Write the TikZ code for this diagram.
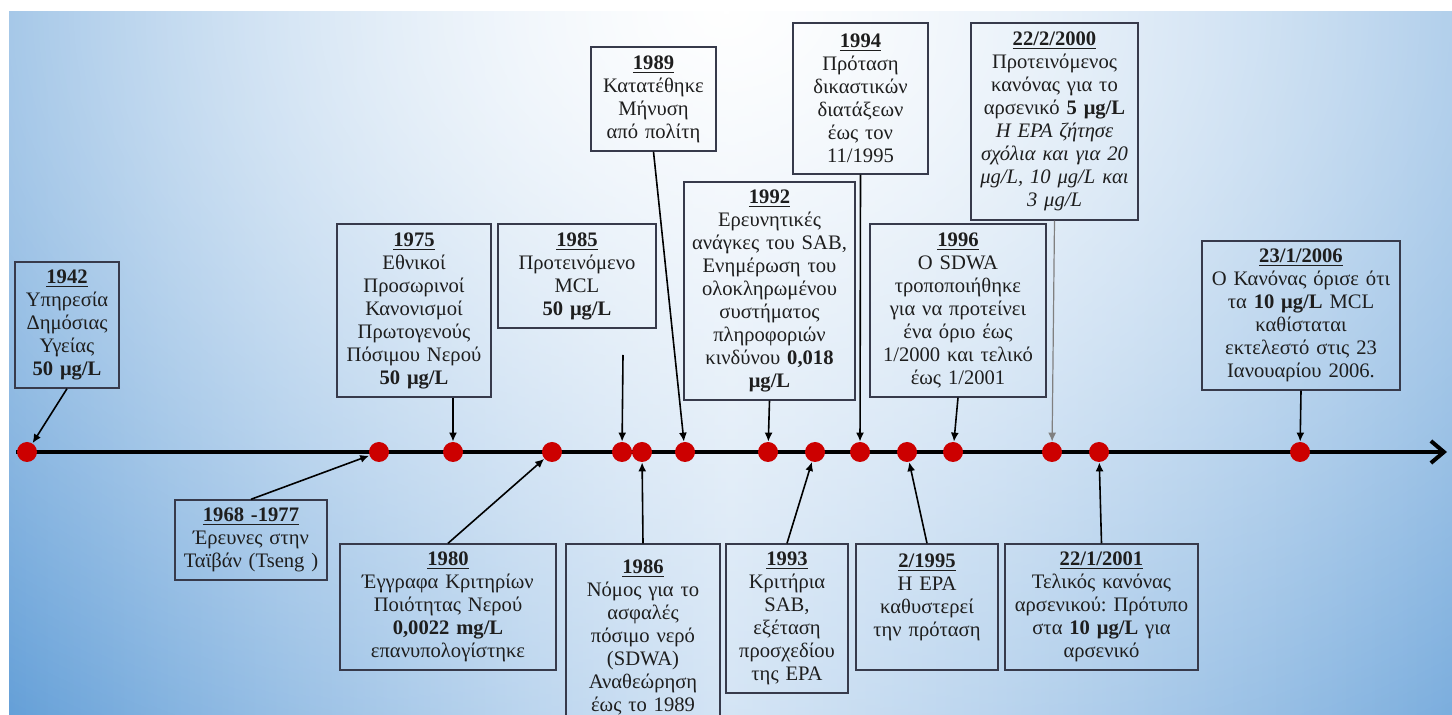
\documentclass[tikz,border=0pt]{standalone}
\usepackage{fontspec}
\setmainfont{Liberation Serif}
\usetikzlibrary{arrows.meta,fadings}

\definecolor{bgside}{RGB}{93,155,214}
\definecolor{bgmid}{RGB}{200,221,242}
\definecolor{boxline}{RGB}{55,58,75}
\definecolor{dotred}{RGB}{204,0,0}
\definecolor{txt}{RGB}{30,30,30}

\tikzfading[name=topglow, inner color=transparent!0, outer color=transparent!100]

\tikzset{
  evbox/.style 2 args={draw=boxline, line width=0.7pt, text=txt, align=center,
    font=\fontsize{10.3}{11.5}\selectfont, inner sep=2pt,
    minimum width=#1*0.5pt, minimum height=#2*0.5pt, text width=#1*0.5pt-4pt},
  evdot/.style={circle, fill=dotred, minimum size=10pt, inner sep=0pt},
  evarrow/.style={line width=0.8pt, -{Latex[length=4.5pt,width=4pt]}}
}
\newcommand{\yr}[1]{\underline{\textbf{#1}}}
\newcommand{\ug}{μg/L}
\frenchspacing

\begin{document}
\begin{tikzpicture}[x=0.5pt,y=-0.5pt]
\useasboundingbox (0,0) rectangle (1452,715);
\begin{scope}
  \clip (9,12) rectangle (1452,715);
  \shade[left color=bgside, right color=bgside!85!white, middle color=bgmid] (9,12) rectangle (1452,715);
  \fill[white, path fading=topglow] (726,12) ellipse (1300 and 900);
\end{scope}

\draw[line width=2pt, -{Straight Barb[length=6.5pt,width=11pt]}] (16,452) -- (1447,452);
\foreach \n/\x in {1942/27, 1968/379, 1975/453, 1980/552, 1985/622, 1986/642, 1989/685, 1992/768,
  1993/815, 1994/860, 1995/907, 1996/953, 2000/1052, 2001/1099, 2006/1300}
  \node[evdot] (d\n) at (\x,452) {};

\node[evbox={104}{126}] (b1942) at (67,325) {\yr{1942}\\Υπηρεσία\\Δημόσιας\\Υγείας\\\textbf{50 \ug}};
\node[evbox={154}{173}] (b1975) at (414,310.5) {\yr{1975}\\Εθνικοί\\Προσωρινοί\\Κανονισμοί\\Πρωτογενούς\\Πόσιμου Νερού\\\textbf{50 \ug}};
\node[evbox={158}{104}] (b1985) at (577,276) {\yr{1985}\\Προτεινόμενο\\MCL\\\textbf{50 \ug}};
\node[evbox={125}{104}] (b1989) at (653.5,99) {\yr{1989}\\Κατατέθηκε\\Μήνυση\\από πολίτη};
\node[evbox={171}{218}] (b1992) at (769.5,291) {\yr{1992}\\Ερευνητικές\\ανάγκες του SAB,\\Ενημέρωση του\\ολοκληρωμένου\\συστήματος\\πληροφοριών\\κινδύνου \textbf{0,018}\\\textbf{\ug}};
\node[evbox={135}{151}] (b1994) at (860.5,98.5) {\yr{1994}\\Πρόταση\\δικαστικών\\διατάξεων\\έως τον\\11/1995};
\node[evbox={167}{197}] (b2000) at (1054.5,121.5) {\yr{22/2/2000}\\Προτεινόμενος\\κανόνας για το\\αρσενικό \textbf{5 \ug}\\\textit{Η EPA ζήτησε}\\\textit{σχόλια και για 20}\\\textit{\ug, 10 \ug\ και}\\\textit{3 \ug}};
\node[evbox={176}{173}] (b1996) at (958,310.5) {\yr{1996}\\O SDWA\\τροποποιήθηκε\\για να προτείνει\\ένα όριο έως\\1/2000 και τελικό\\έως 1/2001};
\node[evbox={198}{149}] (b2006) at (1301,315.5) {\yr{23/1/2006}\\O Κανόνας όρισε ότι\\τα \textbf{10 \ug} MCL\\καθίσταται\\εκτελεστό στις 23\\Ιανουαρίου 2006.};

\node[evbox={152}{80}] (b1968) at (251,540) {\yr{1968 -1977}\\Έρευνες στην\\Ταϊβάν (Tseng )};
\node[evbox={216}{126}] (b1980) at (448,607) {\yr{1980}\\Έγγραφα Κριτηρίων\\Ποιότητας Νερού\\\textbf{0,0022 mg/L}\\επανυπολογίστηκε};
\node[evbox={154}{186}] (b1986) at (643,637) {\yr{1986}\\Νόμος για το\\ασφαλές\\πόσιμο νερό\\(SDWA)\\Αναθεώρηση\\έως το 1989};
\node[evbox={122}{149}] (b1993) at (787,618.5) {\yr{1993}\\Κριτήρια\\SAB,\\εξέταση\\προσχεδίου\\της EPA};
\node[evbox={142}{126}] (b1995) at (927,607) {\yr{2/1995}\\Η EPA\\καθυστερεί\\την πρόταση\\\mbox{}};
\node[evbox={193}{126}] (b2001) at (1101.5,607) {\yr{22/1/2001}\\Τελικός κανόνας\\αρσενικού: Πρότυπο\\στα \textbf{10 \ug} για\\αρσενικό};

\coordinate (c1985) at (623,355);
\draw[evarrow] (b1942.south) -- (d1942);
\draw[evarrow] (b1975.south -| d1975) -- (d1975);
\draw[evarrow] (c1985) -- (d1985);
\draw[evarrow] (b1989.south) -- (d1989);
\draw[evarrow] (b1992.south) -- (d1992);
\draw[evarrow] (b1994.south) -- (d1994);
\draw[evarrow, draw=gray, line width=0.6pt] (b2000.south) -- (d2000);
\draw[evarrow] (b1996.south) -- (d1996);
\draw[evarrow] (b2006.south) -- (d2006);
\draw[evarrow] (b1968.north) -- (d1968);
\draw[evarrow] (b1980.north) -- (d1980);
\draw[evarrow] (b1986.north) -- (d1986);
\draw[evarrow] (b1993.north) -- (d1993);
\draw[evarrow] (b1995.north) -- (d1995);
\draw[evarrow] (b2001.north) -- (d2001);
\end{tikzpicture}
\end{document}
